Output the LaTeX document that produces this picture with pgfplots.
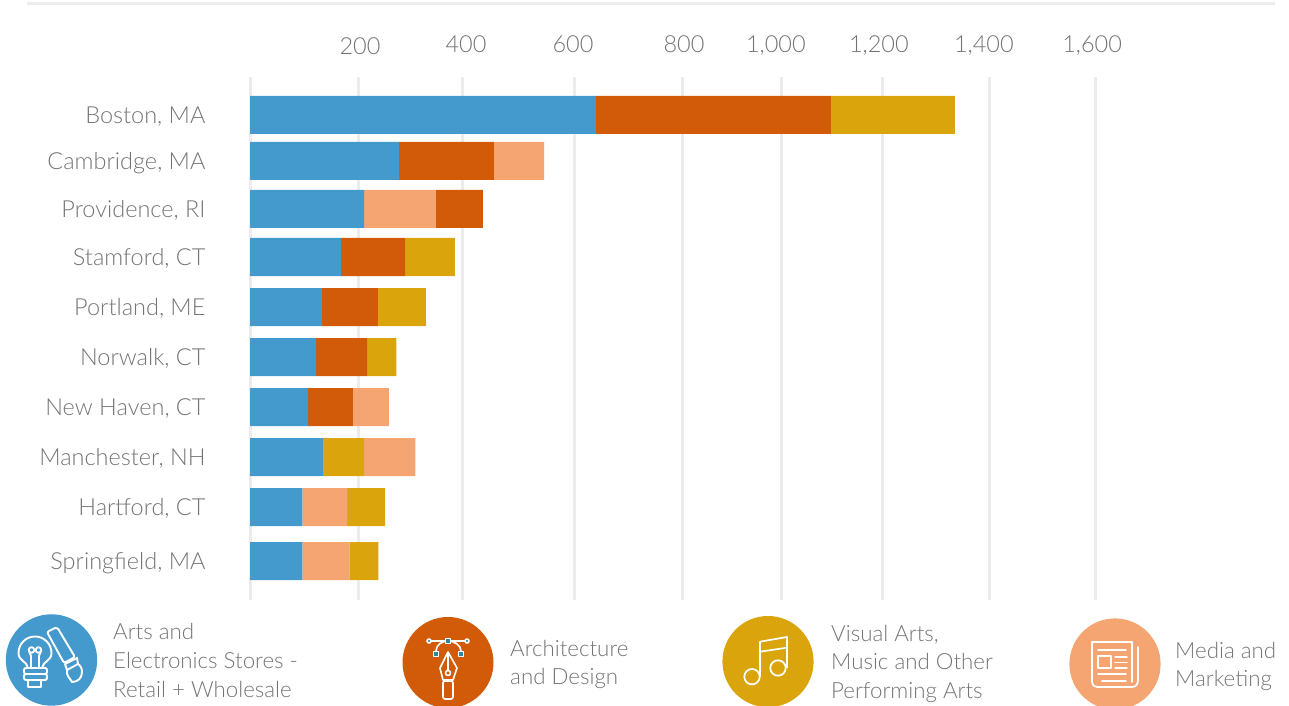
\documentclass[border=0pt]{standalone}
\usepackage{fontspec}
\setmainfont{Lato}[UprightFont=* Light]
\usepackage{pgfplots}
\usepackage{pgfplotstable}
\pgfplotsset{compat=1.18}
\definecolor{cblue}{HTML}{459ACD}
\definecolor{corange}{HTML}{D15B09}
\definecolor{cgold}{HTML}{DAA50C}
\definecolor{cpeach}{HTML}{F5A571}
\definecolor{crule}{HTML}{ECECEC}
\definecolor{ctext}{HTML}{747474}
\definecolor{cnode}{HTML}{2A8C9A}

% Establishments per city. The two media columns let that colour sit on
% either side of architecture and the visual arts within a bar.
\pgfplotstableread{
row retail mediaA arch visual mediaB
115 655 0   445 235 0
161 282 0   180 0   95
209 216 136 89  0   0
257 172 0   122 94  0
307 136 0   106 91  0
357 125 0   97  55  0
407 110 0   85  0   68
457 138 0   0   78  97
507 99  85  0   72  0
561 99  89  0   55  0
}\citydata

\begin{document}
\begin{tikzpicture}
\useasboundingbox (0,0) rectangle (1289pt,706pt);
\begin{axis}[
  at={(250pt,106pt)}, anchor=south west,
  scale only axis, width=1039pt, height=523pt,
  xbar stacked, bar width=38, bar shift=0pt,
  xmin=0, xmax=1967.8, ymin=77, ymax=600, y dir=reverse,
  axis line style={draw=none},
  clip=false,
  major tick length=0pt,
  xtick={208.3,409,611.7,822,996,1191,1390,1595},
  xticklabels={\raisebox{-2pt}{200},400,600,800,{1,000},{1,200},{1,400},{1,600}},
  xticklabel pos=upper,
  xticklabel style={text=ctext,font=\fontsize{23.5}{23.5}\selectfont,anchor=base,yshift=24.5pt},
  extra x ticks={0,206.4,403.4,615.5,818.2,1005.7,1197,1400.6,1601.3},
  extra x tick labels={},
  extra x tick style={grid=major,major grid style={draw=crule,line width=3pt}},
  ytick={115,161,209,257,307,357,407,457,507,561},
  yticklabels={{Boston, MA},{Cambridge, MA},{Providence, RI},{Stamford, CT},{Portland, ME},{Norwalk, CT},{New Haven, CT},{Manchester, NH},{Hartford, CT},{Springfield, MA}},
  yticklabel style={text=ctext,font=\fontsize{23.5}{23.5}\selectfont,anchor=base east,xshift=-41pt,yshift=-8.8pt},
  every axis plot/.append style={draw=none},
]
\addplot[fill=cblue]   table[x=retail,y=row]{\citydata};
\addplot[fill=cpeach]  table[x=mediaA,y=row]{\citydata};
\addplot[fill=corange] table[x=arch,y=row]{\citydata};
\addplot[fill=cgold]   table[x=visual,y=row]{\citydata};
\addplot[fill=cpeach]  table[x=mediaB,y=row]{\citydata};
\end{axis}

\begin{scope}[yshift=706pt,x=1pt,y=-1pt]
  \draw[crule,line width=3pt] (27,4) -- (1275,4);

  \fill[cblue]   (51.5,660)  circle (45.7pt);
  \fill[corange] (448,662.5) circle (45.5pt);
  \fill[cgold]   (768,661.6) circle (45.6pt);
  \fill[cpeach]  (1115,664) circle (45.6pt);

  \begin{scope}[every node/.style={anchor=base west,text=ctext,font=\fontsize{22.3}{22.3}\selectfont,inner sep=0pt}]
    \node at (113,640) {Arts and};
    \node at (113,669) {Electronics Stores -};
    \node at (113,697) {Retail + Wholesale};
    \node at (510,657) {Architecture};
    \node at (510,685) {and Design};
    \node at (831,641.5) {Visual Arts,};
    \node at (831,670) {Music and Other};
    \node at (831,698.5) {Performing Arts};
    \node at (1175,658.5) {Media and};
    \node at (1175,687) {Marketing};
  \end{scope}

  % light bulb and brush
  \begin{scope}[white,line width=1.9pt,line cap=round,line join=round]
    \draw (28,668) .. controls (27,661) and (18.5,661) .. (18.5,653) arc[start angle=180,end angle=360,radius=16.5] .. controls (51.5,661) and (43,661) .. (42,668);
    \draw (31,668) -- (31,656) -- (29,651);
    \draw (39,668) -- (39,656) -- (41,651);
    \draw (31.5,650) circle (2.8pt);
    \draw (38.5,650) circle (2.8pt);
    \draw[rounded corners=2pt] (24,668) rectangle (47,674);
    \draw[rounded corners=2pt] (24,674) rectangle (47,680);
    \draw (28,680) rectangle (41,687);
    \draw[rounded corners=2pt] (47,632) -- (57,627) -- (75,657) -- (64,663) -- cycle;
    \draw (65,664) -- (77,658) -- (78,664) -- (67,670) -- cycle;
    \draw (67,670) .. controls (66,676) and (70,678) .. (72,682) .. controls (78,682) and (82,678) .. (82,672) .. controls (82,668) and (80,665) .. (78,664);
  \end{scope}

  % pen nib on a bezier handle
  \begin{scope}[white,line width=1.6pt,line join=round]
    \draw (429,641) -- (467,641);
    \draw (436,651) .. controls (436,645) and (442,641) .. (448,641) .. controls (454,641) and (461,645) .. (461,651);
    \foreach \px/\py in {429/641,467/641} \draw[fill=cnode] (\px,\py) circle (2pt);
    \foreach \px/\py in {448/641,436/654,461/654} \draw[fill=cnode] (\px-2.5,\py-2.5) rectangle (\px+2.5,\py+2.5);
    \draw (448,652) -- (457,668) -- (453,680) -- (443,680) -- (440,668) -- cycle;
    \draw (448,652) -- (448,670);
    \draw (448,673) circle (2.5pt);
    \draw[rounded corners=1.5pt] (443,681) rectangle (453,699);
  \end{scope}

  % two beamed notes
  \begin{scope}[white,line width=1.7pt,line join=round]
    \draw (752,676.7) circle (7.7pt);
    \draw (778,668) circle (7.7pt);
    \draw (760,676.7) -- (760,641.7) -- (787,637) -- (787,668);
    \draw (760,651.7) -- (787,647.7);
  \end{scope}

  % folded newspaper
  \begin{scope}[white,line width=1.7pt,line join=round,line cap=round]
    \draw (1132,682) -- (1132,642) -- (1092,642) -- (1092,682) .. controls (1092,685) and (1094,687) .. (1097,687) -- (1132,687) .. controls (1136,687) and (1138,684) .. (1138,680) -- (1138,647);
    \draw (1098,650) -- (1126,650);
    \draw (1098,656) rectangle (1111,668);
    \draw (1115,657) -- (1127,657);
    \draw (1115,662.5) -- (1127,662.5);
    \draw (1115,668) -- (1127,668);
    \draw (1098,674) -- (1126,674);
    \draw (1102,681) -- (1126,681);
  \end{scope}
\end{scope}
\end{tikzpicture}
\end{document}
